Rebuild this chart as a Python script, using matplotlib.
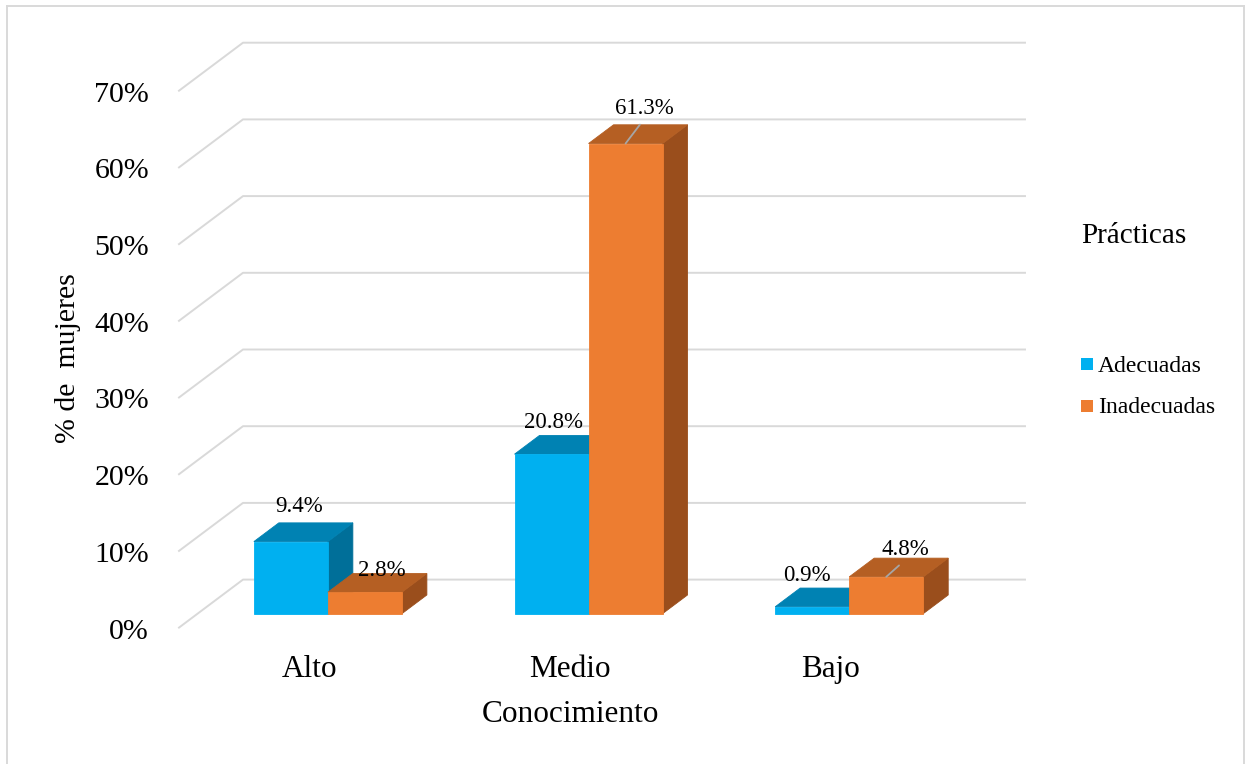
import matplotlib
matplotlib.use("Agg")
import matplotlib.pyplot as plt
from matplotlib.patches import Polygon, Rectangle
from matplotlib.lines import Line2D

plt.rcParams["font.family"] = ["Liberation Serif", "DejaVu Serif"]

categories = ["Alto", "Medio", "Bajo"]
series = ["Adecuadas", "Inadecuadas"]
adecuadas = [9.4, 20.8, 0.9]
inadecuadas = [2.8, 61.3, 4.8]
yticks = [0, 10, 20, 30, 40, 50, 60, 70]

# face colours: front, top, side
BLUE = ("#00B0F0", "#0082B3", "#006F99")
ORANGE = ("#ED7D31", "#B55F23", "#9A4E1C")
GRID = "#D9D9D9"

# oblique depth: the full floor depth shifts by DX categories and DY percent
DX = 64 / 260.67
DY = 48 / 7.67
D0, D1 = 0.29, 0.68   # front / back plane of the bars
BAR_W = 0.284

# label nudges in pixels from the front-top edge centre of each bar
LABEL_OFFSETS = [[(8, 30), (17, 16)], [(2, 26), (19, 30)], [(-5, 26), (19, 22)]]
LEADERS = [[False, False], [False, True], [False, True]]

W, H = 1248, 764
fig = plt.figure(figsize=(W / 100, H / 100), dpi=100)
ax = fig.add_axes([179 / W, (H - 627.6) / H, 846 / W, 584.9 / H])
ax.set_xlim(0, len(categories) + DX)
ax.set_ylim(0, yticks[-1] + DY)
ax.axis("off")


def pt(x, y, d):
    return (x + d * DX, y + d * DY)


# back wall gridlines with their slanted left part
n = len(categories)
for v in yticks:
    xs, ys = zip(pt(0, v, 0), pt(0, v, 1), pt(n, v, 1))
    ax.plot(xs, ys, color=GRID, lw=1.4, clip_on=False, zorder=1)
    ax.annotate(f"{v}%", xy=pt(0, v, 0), xytext=(-30, -11), textcoords="offset pixels",
                ha="right", va="baseline", fontsize=21.5, color="black")

for i, vals in enumerate(zip(adecuadas, inadecuadas)):
    c = i + 0.5
    for j, (v, cols) in enumerate(zip(vals, (BLUE, ORANGE))):
        x0 = c - BAR_W + j * BAR_W
        x1 = x0 + BAR_W
        side = [pt(x1, 0, D0), pt(x1, 0, D1), pt(x1, v, D1), pt(x1, v, D0)]
        top = [pt(x0, v, D0), pt(x1, v, D0), pt(x1, v, D1), pt(x0, v, D1)]
        front = [pt(x0, 0, D0), pt(x1, 0, D0), pt(x1, v, D0), pt(x0, v, D0)]
        for poly, col in ((side, cols[2]), (top, cols[1]), (front, cols[0])):
            ax.add_patch(Polygon(poly, closed=True, facecolor=col, edgecolor=col,
                                 lw=0.6, clip_on=False, zorder=2))

        dx, dy = LABEL_OFFSETS[i][j]
        arrow = None
        if LEADERS[i][j]:
            arrow = dict(arrowstyle="-", color="#A6A6A6", lw=1.3,
                         relpos=(0.5, 0), shrinkA=3, shrinkB=0)
        ax.annotate(f"{v}%", xy=pt(c - BAR_W / 2 + j * BAR_W, v, D0), xytext=(dx, dy),
                    textcoords="offset pixels", ha="center", va="baseline",
                    fontsize=16.5, color="black", arrowprops=arrow, zorder=4)

for i, cat in enumerate(categories):
    ax.annotate(cat, xy=pt(i + 0.5, 0, 0), xytext=(0, -49), textcoords="offset pixels",
                ha="center", va="baseline", fontsize=22.5)

ax.annotate("Conocimiento", xy=pt(n / 2, 0, 0), xytext=(0, -94), textcoords="offset pixels",
            ha="center", va="baseline", fontsize=22.5)
fig.text(68 / W, 1 - 358 / H, "% de  mujeres", rotation=90, ha="center", va="center",
         fontsize=21.5)

# legend
fig.text(1081 / W, 1 - 243.3 / H, "Prácticas", ha="left", va="baseline", fontsize=21)
for name, cols, base in zip(series, (BLUE, ORANGE), (371.7, 413.3)):
    fig.add_artist(Rectangle((1081 / W, 1 - (base - 1.5) / H), 12 / W, 12 / H,
                             transform=fig.transFigure, facecolor=cols[0], edgecolor="none"))
    fig.text(1098 / W, 1 - base / H, name, ha="left", va="baseline", fontsize=17)

# chart border
for xs, ys in (([6.5, 6.5], [H, 5.5]), ([6.5, 1243.5], [5.5, 5.5]), ([1243.5, 1243.5], [5.5, H])):
    fig.add_artist(Line2D([x / W for x in xs], [1 - y / H for y in ys],
                          transform=fig.transFigure, color=GRID, lw=1.4))

fig.savefig("out.png", dpi=100)
